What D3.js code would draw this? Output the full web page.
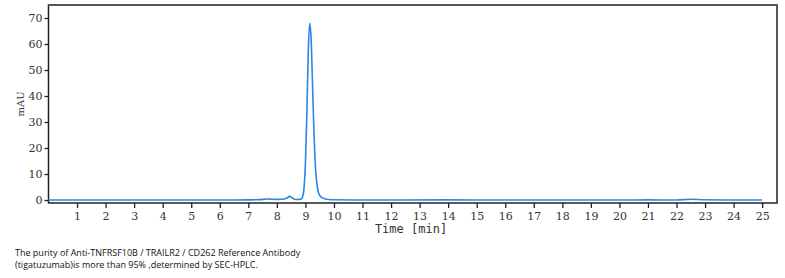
<!DOCTYPE html>
<html>
<head>
<meta charset="utf-8">
<script src="https://cdn.jsdelivr.net/npm/d3@7"></script>
<style>
  body { margin: 0; background: #fff; }
  .caption { font-family: "Open Sans", sans-serif; font-size: 9px; fill: #111; }
</style>
</head>
<body>
<svg id="chart" width="785" height="278"></svg>
<script>
// chromatogram
const timeMin = [0, 1, 2, 3, 4, 5, 6, 6.5, 7, 7.4, 7.6, 7.7, 7.8, 8.0, 8.2, 8.35, 8.45, 8.55, 8.65, 8.75, 8.85,
  8.9, 8.95, 9.0, 9.05, 9.1, 9.15, 9.2, 9.25, 9.3, 9.35, 9.4, 9.45, 9.5, 9.6, 9.7, 9.8, 10, 11, 12, 14, 16, 18,
  20, 21, 22, 22.5, 23, 24, 25]
const signal = [0, 0, 0, 0, 0, 0, 0, 0, 0.05, 0.15, 0.35, 0.4, 0.3, 0.25, 0.3, 0.8, 1.4, 0.8, 0.2, 0.2, 0.4,
  1.2, 4.5, 14, 33, 57, 68, 62, 44, 26, 13, 6.5, 3.2, 1.8, 0.8, 0.4, 0.2, 0.1, 0, 0, 0.05, 0, 0,
  0, 0.05, 0, 0.3, 0.1, 0, 0]
const xTicks = d3.range(1, 26)
const yTicks = [0, 10, 20, 30, 40, 50, 60, 70]

let svg = d3.select('#chart'),
    plotLeft = 48.5, plotRight = 777, plotTop = 5, plotBottom = 203

let x = d3.scaleLinear().domain([0, 25.52]).range([plotLeft, plotRight])
let y = d3.scaleLinear().domain([-1.15, 75]).range([plotBottom, plotTop])

// frame
svg.append('rect')
    .attr('x', plotLeft).attr('y', plotTop)
    .attr('width', plotRight - plotLeft).attr('height', plotBottom - plotTop)
    .attr('fill', 'none')
    .attr('stroke', '#222')
    .attr('stroke-width', 1.5)
svg.append('line')
    .attr('x1', plotLeft).attr('x2', plotRight).attr('y1', plotTop).attr('y2', plotTop)
    .attr('stroke', '#555').attr('stroke-width', 2)

// axes
let xAxis = svg.append('g')
    .attr('transform', 'translate(0,' + plotBottom + ')')
    .call(d3.axisBottom(x).tickValues(xTicks).tickSize(5).tickPadding(4))
let yAxis = svg.append('g')
    .attr('transform', 'translate(' + plotLeft + ',0)')
    .call(d3.axisLeft(y).tickValues(yTicks).tickSize(4).tickPadding(2))
xAxis.select('.domain').remove()
yAxis.select('.domain').remove()
svg.selectAll('.tick line').attr('stroke', '#222').attr('stroke-width', 1.3)
svg.selectAll('.tick text')
    .attr('font-family', null)
    .style('font-family', '"DejaVu Serif", serif')
    .style('font-size', '11px')
    .style('fill', '#333')

// trace
let line = d3.line()
    .x(function (d, i) { return x(timeMin[i]) })
    .y(function (d) { return y(d) })
    .curve(d3.curveMonotoneX)

svg.append('path')
    .datum(signal)
    .attr('d', line)
    .attr('fill', 'none')
    .attr('stroke', '#2b86e6')
    .attr('stroke-width', 1.6)

// axis titles
svg.append('text')
    .attr('transform', 'translate(24,104) rotate(-90)')
    .attr('text-anchor', 'middle')
    .style('font-family', '"DejaVu Serif", serif')
    .style('font-size', '10px')
    .style('fill', '#333')
    .text('mAU')

svg.append('text')
    .attr('x', 411).attr('y', 233)
    .attr('text-anchor', 'middle')
    .style('font-family', '"DejaVu Sans Mono", monospace')
    .style('font-size', '12px')
    .style('fill', '#333')
    .text('Time [min]')

// caption
svg.append('text').attr('class', 'caption')
    .attr('x', 15).attr('y', 256)
    .text('The purity of Anti-TNFRSF10B / TRAILR2 / CD262 Reference Antibody')
svg.append('text').attr('class', 'caption')
    .attr('x', 15).attr('y', 268)
    .text('(tigatuzumab)is more than 95% ,determined by SEC-HPLC.')
</script>
</body>
</html>
